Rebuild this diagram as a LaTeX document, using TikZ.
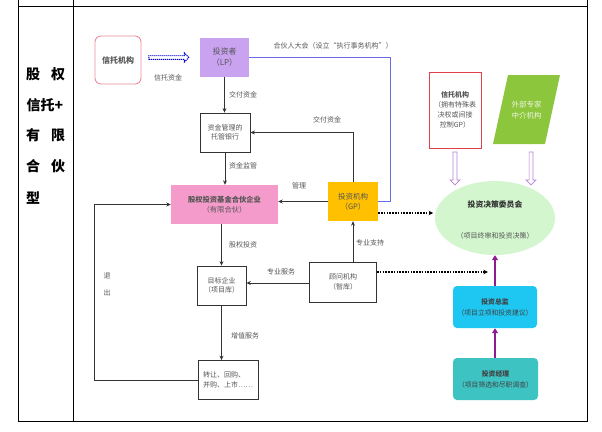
\documentclass[tikz,border=0pt]{standalone}
\usepackage{fontspec}
\setmainfont{Noto Sans CJK SC}
\usetikzlibrary{shapes.geometric,shapes.arrows,arrows.meta}
\definecolor{txtgrey}{HTML}{555555}
\definecolor{linegrey}{HTML}{333333}
\definecolor{lpfill}{HTML}{C9A2F0}
\definecolor{fundfill}{HTML}{F59BCB}
\definecolor{gpfill}{HTML}{FFC000}
\definecolor{cmfill}{HTML}{D3F6CF}
\definecolor{dirfill}{HTML}{1EC6F2}
\definecolor{mgrfill}{HTML}{3EC3C3}
\definecolor{expfill}{HTML}{8CC63C}
\definecolor{blueline}{HTML}{6A6AE6}
\definecolor{purparrow}{HTML}{8E1C8E}
\definecolor{hollowpurp}{HTML}{B77FD6}
\definecolor{pinkborder}{HTML}{EE8C98}
\definecolor{redborder}{HTML}{E0404A}
\begin{document}
\begin{tikzpicture}[x=1pt,y=-1pt,
  every node/.style={font=\fontsize{7}{9.5}\selectfont, text=txtgrey, align=center, inner sep=1pt},
  big/.style={font=\fontsize{8}{11}\selectfont},
  box/.style={draw=linegrey, line width=0.8pt, minimum width=#1},
  conn/.style={draw=linegrey, line width=0.9pt},
  arr/.style={conn, -{Stealth[length=4.5pt,width=4pt]}},
  dotarr/.style={draw=black, line width=1.2pt, dash pattern=on 1.6pt off 1.2pt, -{Stealth[length=4.5pt,width=4.5pt]}},
  purarr/.style={draw=purparrow, line width=2.4pt, -{Triangle[length=5pt,width=6pt]}},
  hollow/.style={single arrow, draw=hollowpurp, fill=white, line width=0.7pt, minimum height=33pt, minimum width=10pt, single arrow head extend=3pt, shape border rotate=270, inner sep=1.5pt},
  lbl/.style={font=\fontsize{7}{9}\selectfont, text=txtgrey},
  side/.style={font=\fontsize{14}{15}\selectfont\bfseries, text=black}
]
\useasboundingbox (0,0) rectangle (602,431);
% table frame
\draw[line width=1pt] (18,0) -- (18,421) -- (587,421) -- (587,0);
\draw[line width=1pt] (73,0) -- (73,421);
\draw[line width=1pt] (18,6) -- (587,6);
% side text
\node[side] (s1a) at (33,74) {股};
\node[side] (s1b) at (58,74) {权};
\node[side] (s2) at (45,105) {信托+};
\node[side] (s3a) at (33,135) {有};
\node[side] (s3b) at (58,135) {限};
\node[side] (s4a) at (33,166) {合};
\node[side] (s4b) at (58,166) {伙};
\node[side] (s5) at (33,198) {型};

% nodes
\node[draw=pinkborder, line width=0.9pt, rounded corners=6pt, minimum width=46pt, minimum height=48pt, font=\fontsize{8}{10}\selectfont\bfseries] (trust1) at (118,60) {信托机构};
\node[fill=lpfill, minimum width=49pt, minimum height=39pt, big] (lp) at (224.5,57.5) {投资者\\（LP）};
\node[box=50pt, minimum height=39pt] (bank) at (225,132.5) {资金管理的\\托管银行};
\node[fill=fundfill, minimum width=107pt, minimum height=39pt, font=\fontsize{7.3}{10.5}\selectfont] (fund) at (224.5,204.5) {\textbf{股权投资基金合伙企业}\\（有限合伙）};
\node[fill=gpfill, minimum width=50pt, minimum height=39pt, font=\fontsize{7.5}{10.5}\selectfont] (gp) at (353,201.5) {投资机构\\（GP）};
\node[box=49pt, minimum height=39pt] (target) at (221.5,285.5) {目标企业\\（项目库）};
\node[box=60pt, minimum height=39pt, align=left] (exitbox) at (228,380) {转让、回购、\\并购、上市……};
\node[box=67pt, minimum height=40pt] (advisor) at (343,282) {顾问机构\\（智库）};
\node[draw=redborder, line width=0.9pt, minimum width=52pt, minimum height=76pt, font=\fontsize{7}{10}\selectfont] (trust2) at (455,110) {\textbf{信托机构}\\（拥有特殊表\\决权或间接\\控制GP）};
\fill[expfill] (493,144) -- (508,75) -- (560,75) -- (545,144) -- cycle;
\node[text=white!85!expfill, font=\fontsize{7.5}{11}\selectfont] (expert) at (526.5,110) {外部专家\\中介机构};
\node[ellipse, fill=cmfill, minimum width=120pt, minimum height=74pt] (committee) at (495,218) {};
\node[text=black!80, font=\fontsize{7.8}{10}\selectfont\bfseries] (cmtitle) at (495,205) {投资决策委员会};
\node[text=txtgrey] (cmsub) at (495,236) {（项目终审和投资决策）};
\node[fill=dirfill, rounded corners=4pt, minimum width=84pt, minimum height=42pt, text=black!75, font=\fontsize{6.8}{11}\selectfont] (director) at (495,307) {\textbf{投资总监}\\（项目立项和投资建议）};
\node[fill=mgrfill, rounded corners=4pt, minimum width=85pt, minimum height=42pt, text=black!75, font=\fontsize{6.8}{11}\selectfont] (manager) at (495.5,379) {\textbf{投资经理}\\（项目筛选和尽职调查）};

% trust fund flow (dotted hollow arrow)
\node[single arrow, draw=blue!80!black, dash pattern=on 1.2pt off 0.8pt, line width=1.1pt, minimum height=40pt, minimum width=9pt, single arrow head extend=2pt, inner sep=0.8pt] (tflow) at (168,57.5) {};
\node[lbl] (ltf) at (168,78) {信托资金};

% hollow arrows to committee
\node[hollow] (h1) at (455,167.5) {};
\node[hollow] (h2) at (531,167.5) {};

% connectors
\draw[draw=blueline, line width=0.9pt] (lp.east) -- ++(141,0) coordinate (bc) |- (gp.east);
\node[lbl] (lga) at (333,46) {合伙人大会（设立“执行事务机构”）};
\draw[arr] (lp.south) -- (lp.south |- bank.north);
\node[lbl] (ljf1) at (243,95) {交付资金};
\draw[arr] (bank.south) -- (bank.south |- fund.north);
\node[lbl] (ljg) at (243,166) {资金监管};
\draw[arr] (gp.north) |- (bank.east);
\node[lbl] (ljf2) at (327,120) {交付资金};
\draw[arr] (gp.west) -- (gp.west -| fund.east);
\node[lbl] (lgl) at (299,186) {管理};
\draw[dotarr] ([yshift=-11.5pt]gp.east) -- ++(55,0) coordinate (gpd);
\draw[arr] (gp.south |- advisor.north) -- (gp.south);
\node[lbl] (lzc) at (370,243) {专业支持};
\draw[dotarr] ([yshift=10pt]advisor.east) -- ++(111,0) coordinate (add);
\draw[arr] ([yshift=-1pt]advisor.west) -- ([yshift=-1pt]advisor.west -| target.east);
\node[lbl] (lzf) at (281,272) {专业服务};
\draw[arr] (target.north |- fund.south) -- (target.north);
\node[lbl] (lgq) at (243,245) {股权投资};
\draw[arr] (target.south) -- (target.south |- exitbox.north);
\node[lbl] (lzz) at (245,336) {增值服务};
\draw[arr] (exitbox.west) -- ++(-103,0) coordinate (ec) |- (fund.west);
\node[lbl] (lt1) at (107,276) {退};
\node[lbl] (lt2) at (107,293) {出};
\draw[purarr] (manager.north -| director.south) -- (director.south);
\draw[purarr] (director.north) -- (committee.south);
\end{tikzpicture}
\end{document}
